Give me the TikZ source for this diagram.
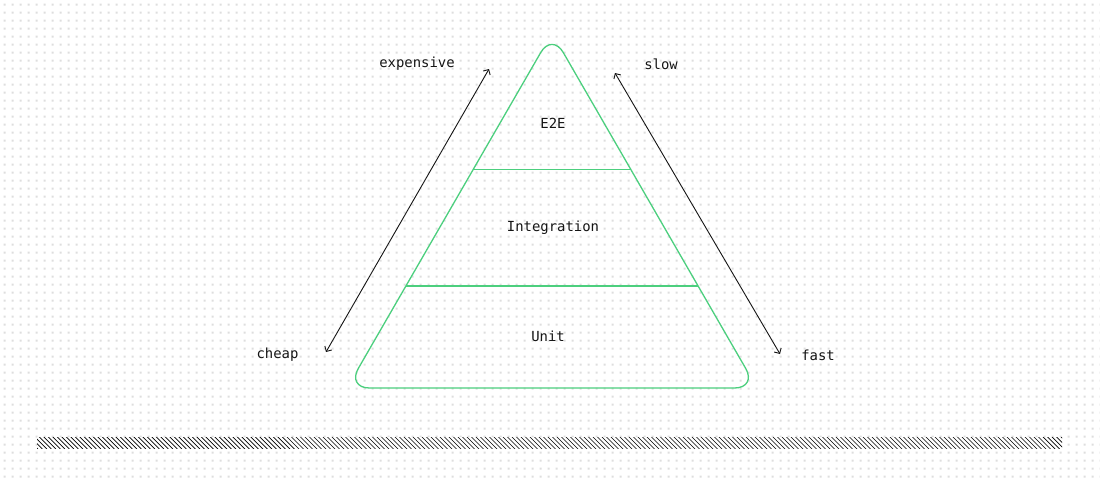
\documentclass[tikz,border=0pt]{standalone}
\usepackage{fontspec}
\setmonofont{DejaVu Sans Mono}
\usetikzlibrary{arrows.meta}
\definecolor{pgreen}{HTML}{4CCF7E}
\definecolor{dotgray}{HTML}{DEDEDE}
\definecolor{ink}{HTML}{151515}
\begin{document}
\begin{tikzpicture}[x=1pt,y=-1pt,
  lbl/.style={font=\ttfamily\fontsize{13.9}{16}\selectfont, text=ink, inner sep=0pt},
  layer/.style={draw=pgreen, line width=1.3pt},
  dimarrow/.style={draw=ink, line width=0.9pt, {Straight Barb[length=4pt,width=8pt]}-{Straight Barb[length=4pt,width=8pt]}},
  hatchline/.style={draw=black, line width=0.7pt}]
\useasboundingbox (0,0) rectangle (1100,480);
\fill[white] (0,0) rectangle (1100,480);
% dot grid
\foreach \i in {0,...,137}
  \fill[dotgray] foreach \j in {0,...,59} {(3.5+8*\i, 3.5+8*\j) rectangle ++(2,2)};
% pyramid
\coordinate (apex) at (552,33);
\coordinate (bl) at (347,388);
\coordinate (br) at (757,388);
\coordinate (bm) at (552,388);
\draw[layer, rounded corners=22.5pt] (bm) -- (br) -- (apex) -- (bl) -- cycle;
\coordinate (d1l) at (473.2,169.5);
\coordinate (d1r) at (630.8,169.5);
\coordinate (d2l) at (405.9,286);
\coordinate (d2r) at (698.1,286);
\draw[layer] (d1l) -- (d1r);
\draw[layer] (d2l) -- (d2r);
% labels
\node[lbl] (e2e) at (553,123) {E2E};
\node[lbl] (integ) at (553,228) {Integration};
\node[lbl] (unit) at (548,336) {Unit};
\node[lbl] (expensive) at (417,64) {expensive};
\node[lbl] (slow) at (661,64) {slow};
\node[lbl] (cheap) at (277.5,355) {cheap};
\node[lbl] (fast) at (818,355) {fast};
% arrows
\coordinate (lefttop) at (489,69);
\coordinate (leftbot) at (326,352);
\coordinate (righttop) at (615,73);
\coordinate (rightbot) at (780,354);
\draw[dimarrow] (leftbot) -- (lefttop);
\draw[dimarrow] (righttop) -- (rightbot);
% hatched bar
\coordinate (barA) at (37,437);
\coordinate (barB) at (1062,448);
\fill[white] (barA) rectangle (barB);
\begin{scope}
  \clip (barA) rectangle (barB);
  \foreach \x in {25,29.5,...,1066}
    \draw[hatchline] (\x,436) -- ++(13,13);
\end{scope}
\end{tikzpicture}
\end{document}
